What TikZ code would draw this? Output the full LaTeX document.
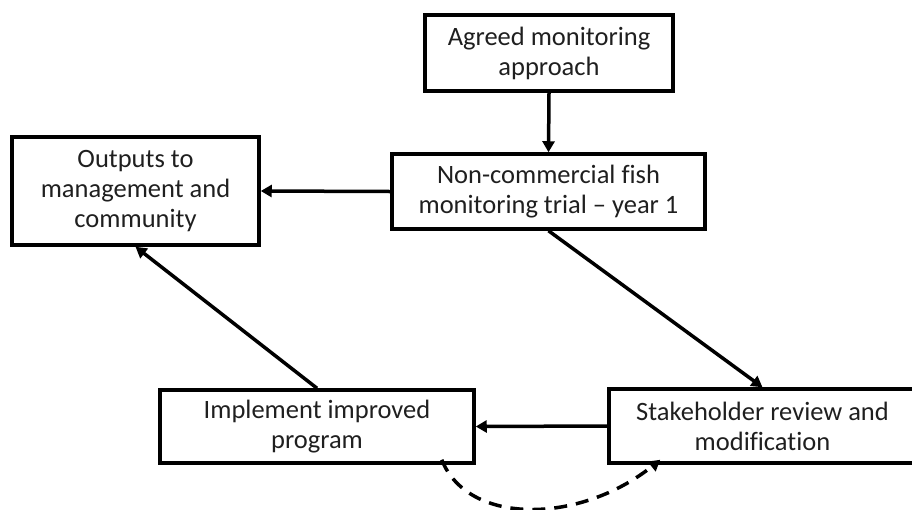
\documentclass[tikz,border=0pt]{standalone}
\usepackage{fontspec}
\setmainfont[Ligatures={NoCommon}]{Carlito}
\usetikzlibrary{arrows.meta}
\begin{document}
\begin{tikzpicture}[x=1pt,y=-1pt,
  box/.style={draw=black,line width=3.5pt,align=center,inner sep=0pt,
    font=\fontsize{26.5}{30}\selectfont,text=black!88},
  conn/.style={line width=3.5pt,-{Triangle[length=11pt,width=12pt]}}]
\useasboundingbox (0,0) rectangle (912,509);
\node[box,minimum width=248pt,minimum height=76pt] (b1) at (549,53) {Agreed monitoring\\approach};
\node[box,minimum width=313pt,minimum height=75pt] (b2) at (548.5,191.5) {Non-commercial fish\\monitoring trial -- year 1};
\node[box,minimum width=247pt,minimum height=108pt] (b3) at (135.5,191) {Outputs to\\management and\\community};
\node[box,minimum width=314pt,minimum height=73pt] (b4) at (317,426.5) {Implement improved\\program};
\node[box,minimum width=307pt,minimum height=74pt] (b5) at (762.5,426) {Stakeholder review and\\modification};
\draw[conn] (b1.south) -- (b2.north);
\draw[conn] (b2.west) -- (b3.east);
\draw[conn] (b2.south) -- (b5.north);
\draw[conn] (b4.north) -- (b3.south);
\draw[conn] (b5.west) -- (b4.east);
\coordinate (ds) at ([xshift=-34pt,yshift=5pt]b4.south east);
\coordinate (de) at ([xshift=53pt,yshift=5pt]b5.south west);
\draw[conn,dash pattern=on 13pt off 9pt] (ds) .. controls (468,526) and (580,524) .. (de);
\end{tikzpicture}
\end{document}
